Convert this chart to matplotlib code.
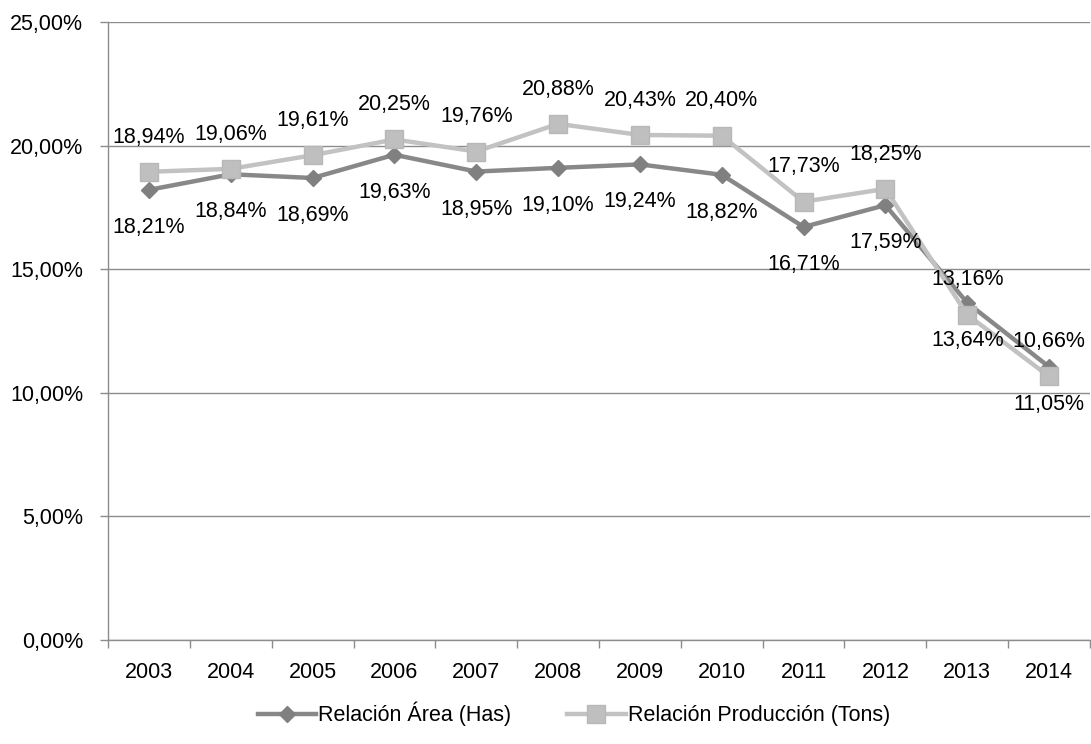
import matplotlib
matplotlib.use('Agg')
import matplotlib.pyplot as plt
from matplotlib.ticker import FuncFormatter

plt.rcParams['font.family'] = ['Liberation Sans', 'DejaVu Sans']

years = ['2003', '2004', '2005', '2006', '2007', '2008', '2009', '2010',
         '2011', '2012', '2013', '2014']
area = [18.21, 18.84, 18.69, 19.63, 18.95, 19.10, 19.24, 18.82,
        16.71, 17.59, 13.64, 11.05]
produccion = [18.94, 19.06, 19.61, 20.25, 19.76, 20.88, 20.43, 20.40,
              17.73, 18.25, 13.16, 10.66]
y_ticks = [0, 5, 10, 15, 20, 25]

dark = '#888888'
light = '#c2c2c2'
grid_c = '#8c8c8c'
fs = 15.5

fig = plt.figure(figsize=(10.91, 7.44), dpi=100)
ax = fig.add_axes([108 / 1091, 1 - 640 / 744, (1090 - 108) / 1091, (640 - 22) / 744])

x = list(range(len(years)))

ax.plot(x, area, color=dark, lw=3.2, marker='D', ms=8.5,
        mfc='#808080', mec='#808080', label='Relación Área (Has)', zorder=3)
ax.plot(x, produccion, color=light, lw=3.2, marker='s', ms=13,
        mfc='#bfbfbf', mec='#b8b8b8', label='Relación Producción (Tons)', zorder=4)


def pct(v):
    return ('%.2f' % v).replace('.', ',') + '%'


for i in x:
    ax.annotate(pct(area[i]), (i, area[i]), xytext=(0, -27),
                textcoords='offset points', ha='center', va='center',
                fontsize=fs, color='black', zorder=5)
    ax.annotate(pct(produccion[i]), (i, produccion[i]), xytext=(0, 25),
                textcoords='offset points', ha='center', va='center',
                fontsize=fs, color='black', zorder=5)

ax.set_xlim(-0.5, len(years) - 0.5)
ax.set_ylim(0, 25)
ax.set_yticks(y_ticks)
ax.yaxis.set_major_formatter(FuncFormatter(lambda v, p: pct(v)))
ax.yaxis.grid(True, color=grid_c, lw=1.0)
ax.set_axisbelow(True)

# categorias: ticks entre categorias, etiquetas centradas
ax.set_xticks([i - 0.5 for i in range(len(years) + 1)])
ax.set_xticklabels([])
ax.set_xticks(x, minor=True)
ax.set_xticklabels(years, minor=True)
ax.tick_params(axis='x', which='major', direction='out', length=6,
               color=grid_c, width=1)
ax.tick_params(axis='x', which='minor', length=0, pad=16, labelsize=fs)
ax.tick_params(axis='y', direction='out', length=6, color=grid_c, width=1,
               pad=12, labelsize=fs)

for s in ['top', 'right']:
    ax.spines[s].set_visible(False)
for s in ['left', 'bottom']:
    ax.spines[s].set_color(grid_c)
    ax.spines[s].set_linewidth(1.0)

fig.legend(loc='center', bbox_to_anchor=(574 / 1091, 1 - 714 / 744), ncol=2,
           frameon=False, fontsize=fs, handlelength=2.7, handletextpad=0.1,
           columnspacing=2.6)

fig.savefig('out.png', dpi=100)
